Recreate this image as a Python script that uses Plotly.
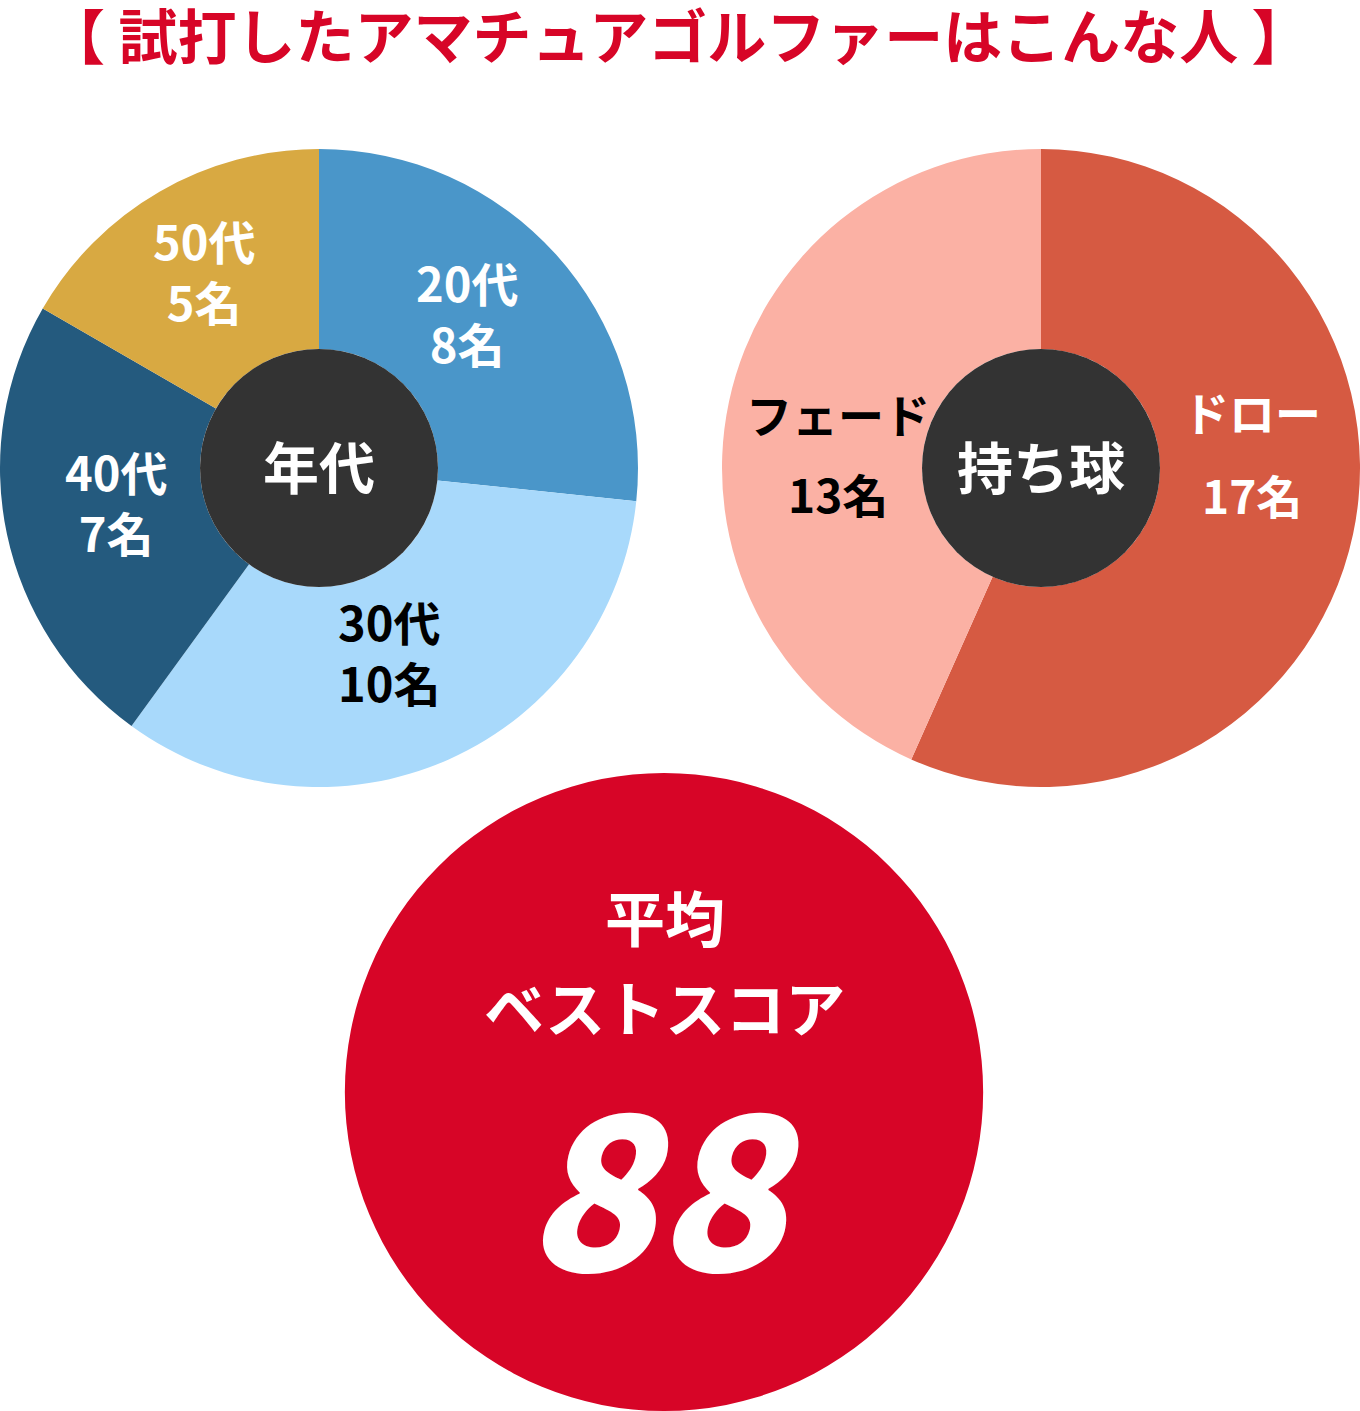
import plotly.graph_objects as go

W, H = 1360, 1411

TITLE = "【 試打したアマチュアゴルファーはこんな人 】"

AGE_CENTER_LABEL = "年代"
AGE_GROUPS = ["20代", "30代", "40代", "50代"]
AGE_COUNTS = [8, 10, 7, 5]

BALL_CENTER_LABEL = "持ち球"
BALL_TYPES = ["ドロー", "フェード"]
BALL_COUNTS = [17, 13]

SCORE_LABEL_1 = "平均"
SCORE_LABEL_2 = "ベストスコア"
BEST_SCORE = 88

# styles / layout (pixels)
AGE_COLORS = ["#4A96C9", "#A8D9FB", "#245A7E", "#D8A942"]
AGE_TEXT_COLORS = ["white", "black", "white", "white"]
AGE_LABEL_POS = [(467, 312), (389, 651), (116, 501), (204, 270)]

BALL_COLORS = ["#D65A42", "#FBB1A4"]
BALL_TEXT_COLORS = ["white", "black"]
BALL_LABEL_POS = [(1252, 411, 494), (838, 413, 493)]

FONT = "Noto Sans CJK JP"
HOLE_COLOR = "#333333"
RED = "#D70527"


def fx(x):
    return x / W


def fy(y):
    return 1 - y / H


def domain(cx, cy, r):
    return dict(x=[fx(cx - r), fx(cx + r)], y=[fy(cy + r), fy(cy - r)])


R = 319
HOLE_R = 119
AGE_C = (319, 468)
BALL_C = (1041, 468)
SCORE_C = (664, 1092)

fig = go.Figure()

fig.add_trace(go.Pie(
    labels=AGE_GROUPS, values=AGE_COUNTS, sort=False, direction="clockwise",
    rotation=0, hole=HOLE_R / R, domain=domain(*AGE_C, R),
    marker=dict(colors=AGE_COLORS, line=dict(width=0)),
    textinfo="none", hoverinfo="label+value", showlegend=False,
))

fig.add_trace(go.Pie(
    labels=BALL_TYPES, values=BALL_COUNTS, sort=False, direction="clockwise",
    rotation=0, hole=HOLE_R / R, domain=domain(*BALL_C, R),
    marker=dict(colors=BALL_COLORS, line=dict(width=0)),
    textinfo="none", hoverinfo="label+value", showlegend=False,
))

fig.add_trace(go.Pie(
    labels=[SCORE_LABEL_2], values=[BEST_SCORE], sort=False,
    domain=domain(*SCORE_C, R),
    marker=dict(colors=[RED], line=dict(width=0)),
    textinfo="none", hoverinfo="label+value", showlegend=False,
))

shapes = []
for (cx, cy) in (AGE_C, BALL_C):
    shapes.append(dict(
        type="circle", xref="paper", yref="paper",
        x0=fx(cx - HOLE_R), x1=fx(cx + HOLE_R),
        y0=fy(cy + HOLE_R), y1=fy(cy - HOLE_R),
        fillcolor=HOLE_COLOR, line=dict(width=0), layer="above",
    ))

ann = []


def add_text(text, x, y, size, color, weight="bold", family=FONT):
    ann.append(dict(
        text=text, x=fx(x), y=fy(y), xref="paper", yref="paper",
        xanchor="center", yanchor="middle", showarrow=False,
        font=dict(family=family, size=size, color=color, weight=weight),
    ))


add_text(TITLE, 678, 33, 59, RED)

for name, cnt, col, (x, y) in zip(AGE_GROUPS, AGE_COUNTS, AGE_TEXT_COLORS, AGE_LABEL_POS):
    add_text(f"{name}<br>{cnt}名", x, y, 47, col)

for name, cnt, col, (x, y1, y2) in zip(BALL_TYPES, BALL_COUNTS, BALL_TEXT_COLORS, BALL_LABEL_POS):
    add_text(name, x, y1, 46, col)
    add_text(f"{cnt}名", x, y2, 46, col)

add_text(AGE_CENTER_LABEL, AGE_C[0], 464, 56, "white")
add_text(BALL_CENTER_LABEL, BALL_C[0], 464, 56, "white")

add_text(SCORE_LABEL_1, 665, 915, 60, "white")
add_text(SCORE_LABEL_2, 664, 1005, 60, "white")
add_text(f"<i>{BEST_SCORE}</i>", 664, 1178, 214, "white", weight=900)

fig.update_layout(
    width=W, height=H, margin=dict(l=0, r=0, t=0, b=0),
    paper_bgcolor="white", plot_bgcolor="white",
    shapes=shapes, annotations=ann, showlegend=False,
)

fig.write_html(
    "out.html",
    config={"displayModeBar": False},
    post_script="document.body.style.margin='0';document.documentElement.style.margin='0';",
)
